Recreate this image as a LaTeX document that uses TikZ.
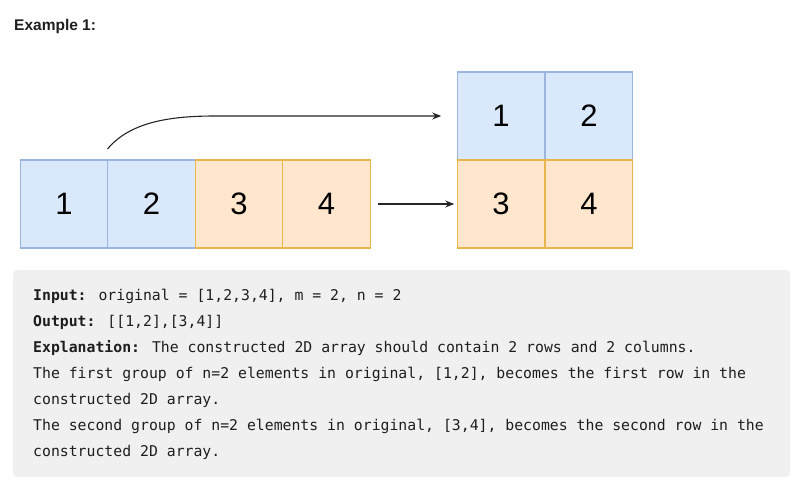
\documentclass[tikz,border=0pt]{standalone}
\usepackage{fontspec}
\setmainfont{Liberation Sans}
\newfontfamily\codefont{DejaVu Sans Mono}
\usetikzlibrary{arrows.meta}
\definecolor{bluefill}{HTML}{DAE8FC}
\definecolor{bluestroke}{HTML}{9DB4DE}
\definecolor{orangefill}{HTML}{FFE6CC}
\definecolor{orangestroke}{HTML}{E8B64A}
\definecolor{boxgray}{HTML}{F0F0F0}
\definecolor{txt}{HTML}{1E1E1E}
\tikzset{
  cell/.style={draw, line width=1.3pt, minimum width=87.5pt, minimum height=88pt, inner sep=0pt, outer sep=0pt, font=\fontsize{31}{31}\selectfont, text=black},
  bluecell/.style={cell, fill=bluefill, draw=bluestroke},
  orangecell/.style={cell, fill=orangefill, draw=orangestroke},
  conn/.style={line width=1.1pt, draw=black!85, -{Stealth[length=9pt,width=7pt]}},
  codeline/.style={anchor=base west, inner sep=0pt, text=txt, font=\codefont\fontsize{14.8}{26}\selectfont},
}
\begin{document}
\begin{tikzpicture}[x=1pt,y=-1pt]
\useasboundingbox (0,0) rectangle (793,488);
\fill[white] (0,0) rectangle (793,488);
\node[anchor=base west, inner sep=0pt, text=txt, font=\bfseries\fontsize{15.5}{18}\selectfont] (title) at (14,30) {Example 1:};
% left array
\node[bluecell] (a1) at (64,204) {1};
\node[bluecell] (a2) at (151.5,204) {2};
\node[orangecell] (a3) at (239,204) {3};
\node[orangecell] (a4) at (326.5,204) {4};
% right grid
\node[bluecell] (b1) at (501,116) {1};
\node[bluecell] (b2) at (589,116) {2};
\node[orangecell] (b3) at (501,204) {3};
\node[orangecell] (b4) at (589,204) {4};
% connectors
\coordinate (cs) at (107.5,149);
\draw[conn, shorten >=16pt] (cs) .. controls (130,122) and (170,116) .. (215,116) -- (b1.west);
\draw[conn, shorten <=8pt, shorten >=3pt] (a4.east) -- (b3.west);
% code box
\fill[boxgray, rounded corners=4pt] (13,270) rectangle (790,477);
\node[codeline] (l1) at (33,300) {\textbf{Input:} original = [1,2,3,4], m = 2, n = 2};
\node[codeline] (l2) at (33,326) {\textbf{Output:} [[1,2],[3,4]]};
\node[codeline] (l3) at (33,352) {\textbf{Explanation:} The constructed 2D array should contain 2 rows and 2 columns.};
\node[codeline] (l4) at (33,378) {The first group of n=2 elements in original, [1,2], becomes the first row in the};
\node[codeline] (l5) at (33,404) {constructed 2D array.};
\node[codeline] (l6) at (33,430) {The second group of n=2 elements in original, [3,4], becomes the second row in the};
\node[codeline] (l7) at (33,456) {constructed 2D array.};
\end{tikzpicture}
\end{document}
